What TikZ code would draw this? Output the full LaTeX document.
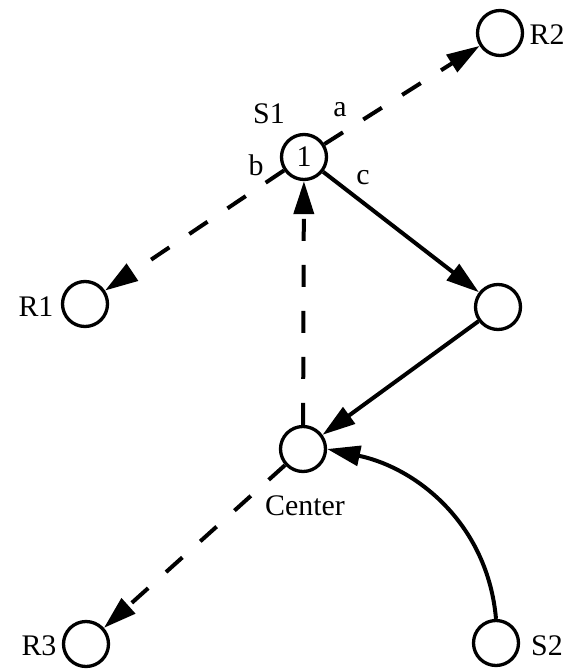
\documentclass[tikz,border=0pt]{standalone}
\usepackage{fontspec}
\setmainfont{Liberation Serif}
\usetikzlibrary{arrows.meta}
\tikzset{
  vert/.style={circle,draw,line width=3.3bp,minimum size=45bp,inner sep=0pt,font=\fontsize{30}{33}\selectfont},
  lbl/.style={inner sep=0pt,font=\fontsize{30}{33}\selectfont},
  conn/.style={line width=4bp,-{Triangle[length=33bp,width=20bp]}},
  dashconn/.style={conn,dash pattern=on 22bp off 24bp}
}
\begin{document}
\begin{tikzpicture}[x=1bp,y=-1bp]
\useasboundingbox (0,0) rectangle (573,670);
\node[vert] (R2) at (500,33) {};
\node[vert] (S1) at (304,157) {1};
\node[vert] (R1) at (85,304) {};
\node[vert] (Rn) at (498,307) {};
\node[vert] (C) at (303,449) {};
\node[vert] (R3) at (86,644) {};
\node[vert] (S2) at (496,643) {};
\node[lbl] (lR2) at (547,35) {R2};
\node[lbl] (lS1) at (269,114) {S1};
\node[lbl] (la) at (340,110) {a};
\node[lbl] (lb) at (256,165) {b};
\node[lbl] (lc) at (363,178) {c};
\node[lbl] (lR1) at (36,307) {R1};
\node[lbl] (lC) at (305,506) {Center};
\node[lbl] (lR3) at (39,646) {R3};
\node[lbl] (lS2) at (547,646) {S2};
\draw[dashconn] (S1) -- (R2);
\draw[dashconn] (S1) -- (R1);
\draw[dashconn] (C) -- (S1);
\draw[dashconn] (C) -- (R3);
\draw[conn] (S1) -- (Rn);
\draw[conn] (Rn) -- (C);
\draw[conn] (S2.north) to[out=95,in=-12] (C.east);
\end{tikzpicture}
\end{document}
